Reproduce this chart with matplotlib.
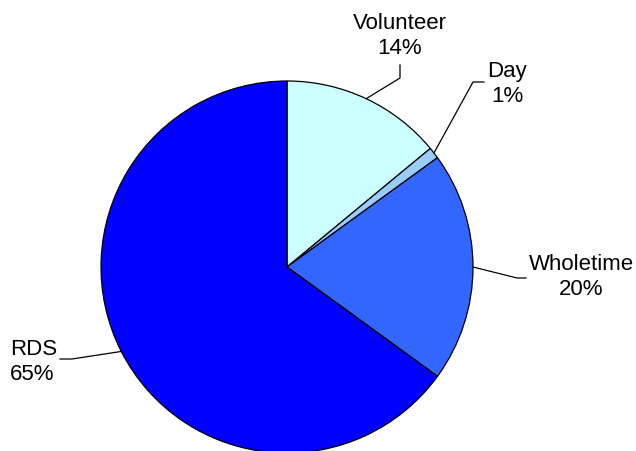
import numpy as np
import matplotlib.pyplot as plt

plt.rcParams['font.family'] = ['Liberation Sans', 'DejaVu Sans']

# доли, %
labels = ['Volunteer', 'Day', 'Wholetime', 'RDS']
values = [14, 1, 20, 65]
colors = ['#CCFFFF', '#99CCFF', '#3366FF', '#0000FF']

W, H = 636, 451
cx, cy, R = 287, H - 267, 186

fig = plt.figure(figsize=(6.36, 4.51), dpi=100)
ax = fig.add_axes([0, 0, 1, 1])

wedges, _ = ax.pie(values, colors=colors, startangle=90, counterclock=False,
                   center=(cx, cy), radius=R,
                   wedgeprops=dict(edgecolor='black', linewidth=0.9))

# pie сам ставит пределы осей, поэтому задаём их после
ax.set_xlim(0, W)
ax.set_ylim(0, H)
ax.set_aspect('equal')
ax.axis('off')

# положение подписей: излом линии, конец линии, центр текста
layout = {
    'Volunteer': ((400, 78), (400, 65), (400, 36), 'center'),
    'Day':       ((473, 82), (484, 82), (507, 84), 'center'),
    'Wholetime': ((517, 278), (526, 278), (581, 277), 'center'),
    'RDS':       ((72, 359), (60, 359), (10, 362), 'left'),
}

for w, lab, v in zip(wedges, labels, values):
    a = np.deg2rad((w.theta1 + w.theta2) / 2)
    x0, y0 = cx + R * np.cos(a), cy + R * np.sin(a)
    (ex, ey), (tx_, ty_), (lx, ly), ha = layout[lab]
    ax.plot([x0, ex, tx_], [y0, H - ey, H - ty_], color='black', lw=0.9)
    ax.text(lx, H - ly, f'{lab}\n{v}%', ha=ha, va='center', fontsize=16,
            linespacing=1.2)

fig.savefig('out.png', dpi=100)
